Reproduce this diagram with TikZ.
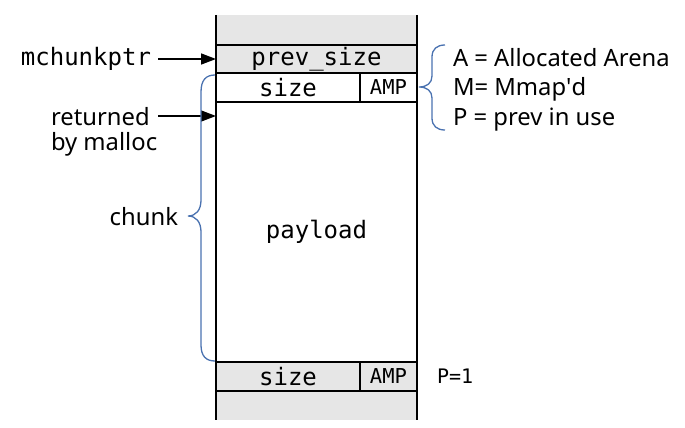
\documentclass[tikz,border=0pt]{standalone}
\usepackage{fontspec}
\setmainfont{Noto Sans}
\setmonofont{DejaVu Sans Mono}
\usetikzlibrary{arrows.meta}
\definecolor{cellgray}{HTML}{E6E6E6}
\definecolor{braceblue}{HTML}{4A72B0}
\tikzset{
  cell/.style={draw=black, line width=1.5pt, inner sep=0pt, outer sep=0pt, font=\fontsize{24}{28}\selectfont\ttfamily},
  ampcell/.style={cell, font=\fontsize{20.5}{24}\selectfont\ttfamily},
  grayfill/.style={fill=cellgray},
  edge/.style={draw=none, fill=cellgray, inner sep=0pt, outer sep=0pt},
  lbl/.style={inner sep=0pt, outer sep=0pt, font=\fontsize{23.8}{25}\selectfont},
  monolbl/.style={inner sep=0pt, outer sep=0pt, font=\fontsize{24}{28}\selectfont\ttfamily},
  ptr/.style={line width=1.5pt, -{Triangle[length=15pt,width=11pt]}},
  bracepath/.style={draw=braceblue, line width=1.3pt},
}
\begin{document}
\begin{tikzpicture}[x=1pt,y=-1pt]
\useasboundingbox (0,0) rectangle (685,428);
% column
\node[edge, minimum width=201pt, minimum height=30pt] (topgray) at (316.5,30) {};
\node[edge, minimum width=201pt, minimum height=29pt] (botgray) at (316.5,405.5) {};
\node[cell, grayfill, minimum width=201pt, minimum height=28pt] (prev) at (316.5,59) {prev\_size};
\node[cell, minimum width=144pt, minimum height=29pt] (size1) at (288,87.5) {size};
\node[ampcell, minimum width=57pt, minimum height=29pt] (amp1) at (388.5,87.5) {AMP};
\node[cell, minimum width=201pt, minimum height=260pt] (payload) at (316.5,232) {payload};
\node[cell, grayfill, minimum width=144pt, minimum height=29pt] (size2) at (288,376.5) {size};
\node[ampcell, grayfill, minimum width=57pt, minimum height=29pt] (amp2) at (388.5,376.5) {AMP};
\draw[line width=1.5pt] (topgray.north west) -- (botgray.south west);
\draw[line width=1.5pt] (topgray.north east) -- (botgray.south east);
% left labels
\node[monolbl, anchor=east] (mchunk) at (151,59) {mchunkptr};
\draw[ptr] ([xshift=7pt]mchunk.east) -- (prev.west);
\node[lbl, anchor=west, align=left, font=\fontsize{23.8}{25}\selectfont] (returned) at (51,131.5) {returned\\by malloc};
\coordinate (retstart) at (158,116);
\draw[ptr] (retstart) -- (retstart -| payload.west);
\node[lbl, anchor=east] (chunk) at (178,217) {chunk};
% left brace
\draw[bracepath] (215,75) .. controls (206,75) and (201,80) .. (201,92) -- (201,200)
  .. controls (201,210) and (196,216) .. (188,216)
  .. controls (196,216) and (201,222) .. (201,232) -- (201,345)
  .. controls (201,356) and (206,361) .. (215,361);
% right brace
\draw[bracepath] (445,45) .. controls (437,45) and (432,49) .. (432,57) -- (432,76)
  .. controls (432,83) and (427,87) .. (419,87)
  .. controls (427,87) and (432,91) .. (432,98) -- (432,118)
  .. controls (432,126) and (437,130) .. (445,130);
\node[lbl, anchor=west, align=left, font=\fontsize{23.8}{29.5}\selectfont] (legend) at (453,89.5) {A = Allocated Arena\\M= Mmap\textquotesingle d\\P = prev in use};
\node[inner sep=0pt, outer sep=0pt, anchor=west, font=\fontsize{20}{24}\selectfont\ttfamily] (pone) at (437,376) {P=1};
\end{tikzpicture}
\end{document}
